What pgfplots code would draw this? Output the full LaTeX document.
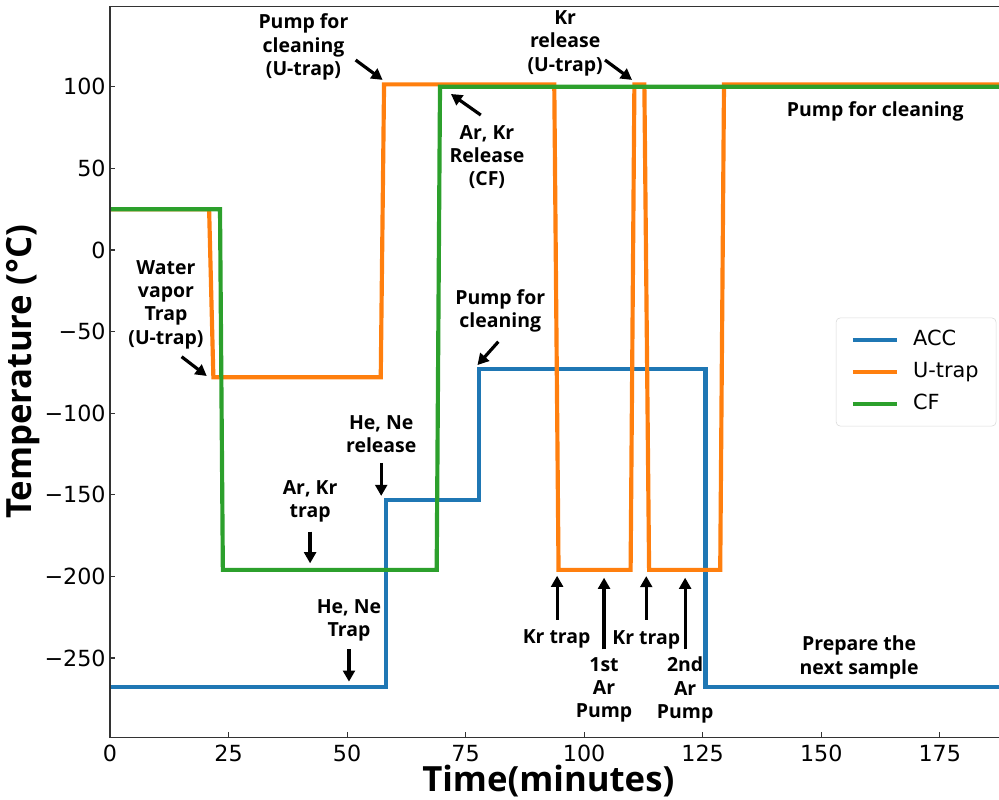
\documentclass[border=0pt]{standalone}
\usepackage{pgfplots}
\pgfplotsset{compat=1.18}
\usepackage{fontspec}
\setmainfont{Open Sans}
\newfontfamily\dejavu{DejaVu Sans}
\usetikzlibrary{arrows.meta}

\definecolor{accblue}{HTML}{1F77B4}
\definecolor{utraporange}{HTML}{FF7F0E}
\definecolor{cfgreen}{HTML}{2CA02C}

\tikzset{
  note/.style={font=\bfseries\fontsize{14}{16.8}\selectfont, align=center, text=black},
  pointer/.style={-{Triangle[length=8pt,width=8.5pt]}, line width=2.3pt, black},
}

\begin{document}
\begin{tikzpicture}
\begin{axis}[
  at={(0,0)}, anchor=south west,
  scale only axis, width=640pt, height=526pt,
  xmin=0, xmax=187.5, ymin=-298.6, ymax=149.1,
  axis line style={draw=none},
  tick align=inside, tick pos=left,
  major tick length=3.5pt,
  every tick/.style={black!80, line width=0.8pt},
  xtick={0,25,...,175},
  ytick={-250,-200,...,100},
  yticklabels={−250,−200,−150,−100,−50,0,50,100},
  tick label style={font=\dejavu\fontsize{16}{19}\selectfont},
  yticklabel style={inner xsep=3pt},
  xticklabel style={inner ysep=5.3pt},
  /pgf/number format/assume math mode=true,
  xlabel={Time(minutes)}, ylabel={Temperature (°C)},
  label style={font=\bfseries\fontsize{25}{30}\selectfont, inner sep=0pt},
  xlabel style={at={([yshift=-31.5pt]rel axis cs:0.493,0)}, anchor=center},
  ylabel style={at={([xshift=-62.6pt]rel axis cs:0,0.5)}, anchor=center},
  clip=false,
  legend style={
    at={(rel axis cs:0.997,0.5)}, anchor=east,
    draw=black!15, rounded corners=3pt, fill=white,
    font=\dejavu\fontsize{15}{18}\selectfont,
    inner xsep=10.5pt, inner ysep=6.75pt,
    row sep=5.2pt,
    nodes={inner sep=2pt, text height=11pt, text depth=3pt},
    /tikz/every odd column/.append style={column sep=8pt},
  },
  legend cell align=left,
  legend image code/.code={\draw[#1] (0pt,0pt) -- (32pt,0pt);},
]
\addplot[accblue, line width=3pt] coordinates {
  (0,-268) (58.2,-268) (58.2,-153) (77.8,-153) (77.8,-73)
  (125.6,-73) (125.6,-268) (188,-268)
};
\addplot[utraporange, line width=3pt] coordinates {
  (0,25) (20.9,25) (21.8,-78) (57.1,-78) (57.8,101.5)
  (93.7,101.5) (94.6,-196) (109.8,-196) (110.6,101.5)
  (112.7,101.5) (113.7,-196) (128.7,-196) (129.5,101.5) (188,101.5)
};
\addplot[cfgreen, line width=3pt] coordinates {
  (0,25) (23.2,25) (23.8,-196) (68.9,-196) (69.6,100) (188,100)
};
\legend{ACC,U-trap,CF}

% spines: top, left, bottom (right one falls outside the crop)
\draw[black!80, line width=0.8pt] (rel axis cs:1,1) -- (rel axis cs:0,1)
  -- (rel axis cs:0,0) -- (rel axis cs:1,0);

% annotations
\node[note] at (axis cs:40.8,124.4) {Pump for\\cleaning\\(U-trap)};
\draw[pointer] (axis cs:51.8,116.4) -- (axis cs:57.5,104.2);

\node[note] at (axis cs:79.5,57.0) {Ar, Kr\\Release\\(CF)};
\draw[pointer] (axis cs:78.2,82.7) -- (axis cs:71.9,95.6);

\node[note] at (axis cs:96.0,126.6) {Kr\\release\\(U-trap)};
\draw[pointer] (axis cs:104.4,116.4) -- (axis cs:110.1,104.2);

\node[note] at (axis cs:161.4,84.7) {Pump for cleaning};

\node[note] at (axis cs:11.8,-33.4) {Water\\vapor\\Trap\\(U-trap)};
\draw[pointer] (axis cs:15.1,-65.4) -- (axis cs:20.4,-77.2);

\node[note] at (axis cs:82.3,-37.4) {Pump for\\cleaning};
\draw[pointer] (axis cs:81.9,-56.2) -- (axis cs:77.5,-70.5);

\node[note] at (axis cs:57.2,-112.9) {He, Ne\\release};
\draw[pointer] (axis cs:57.2,-130.5) -- (axis cs:57.2,-150.7);

\node[note] at (axis cs:42.2,-154.2) {Ar, Kr\\trap};
\draw[pointer] (axis cs:42.2,-172.6) -- (axis cs:42.2,-192.0);

\node[note] at (axis cs:50.4,-227.1) {He, Ne\\Trap};
\draw[pointer] (axis cs:50.4,-244.7) -- (axis cs:50.4,-264.5);

\node[note] at (axis cs:94.2,-238.6) {Kr trap};
\draw[pointer] (axis cs:94.3,-226.7) -- (axis cs:94.3,-199.6);

\node[note] at (axis cs:104.2,-269.6) {1st\\Ar\\Pump};
\draw[pointer] (axis cs:104.2,-244.7) -- (axis cs:104.2,-200.8);

\node[note] at (axis cs:113.1,-239.0) {Kr trap};
\draw[pointer] (axis cs:113.1,-226.7) -- (axis cs:113.1,-199.8);

\node[note] at (axis cs:121.3,-269.6) {2nd\\Ar\\Pump};
\draw[pointer] (axis cs:121.3,-244.7) -- (axis cs:121.3,-200.8);

\node[note] at (axis cs:158.0,-249.7) {Prepare the\\next sample};
\end{axis}
\pgfresetboundingbox
\path[use as bounding box] (-79.2pt,-45.1pt) rectangle (640pt,530.8pt);
\end{tikzpicture}
\end{document}
